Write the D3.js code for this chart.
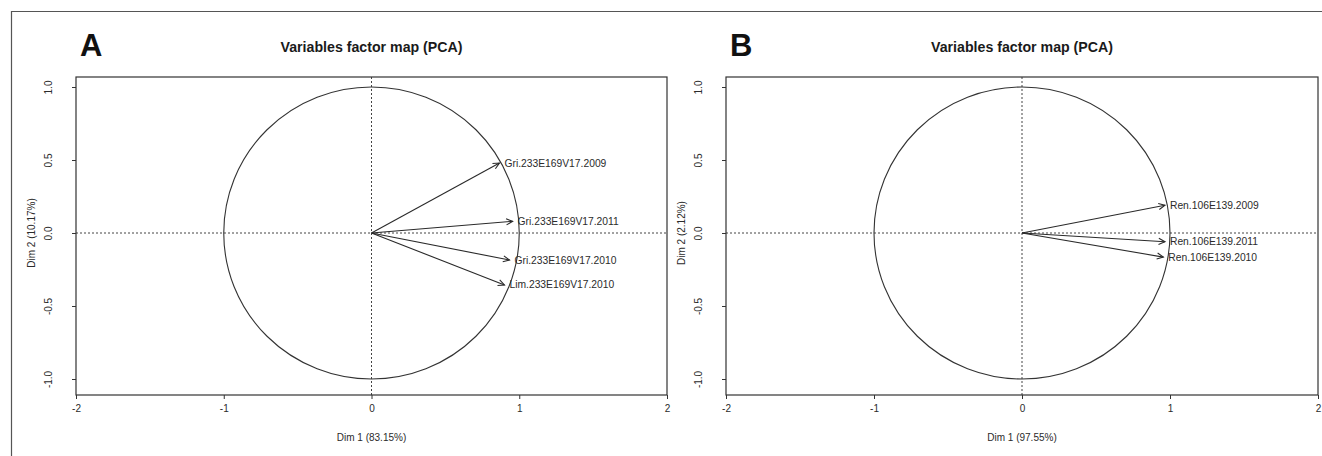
<!DOCTYPE html>
<html><head><meta charset="utf-8">
<script src="https://cdn.jsdelivr.net/npm/d3@7"></script>
<style>
body{margin:0;background:#fff;}
svg{display:block;font-family:"Liberation Sans",Arial,sans-serif;}
</style></head>
<body>
<svg id="c" width="1322" height="456"></svg>
<script>
// ---- data ----
const panelLetters = ["A", "B"];
const panelTitle = "Variables factor map (PCA)";
const xTitles = ["Dim 1 (83.15%)", "Dim 1 (97.55%)"];
const yTitles = ["Dim 2 (10.17%)", "Dim 2 (2.12%)"];
const xTicks = [-2, -1, 0, 1, 2];
const xTickLabels = ["-2", "-1", "0", "1", "2"];
const yTicks = [1, 0.5, 0, -0.5, -1];
const yTickLabels = ["1.0", "0.5", "0.0", "-0.5", "-1.0"];

const varsA = ["Gri.233E169V17.2009", "Gri.233E169V17.2011", "Gri.233E169V17.2010", "Lim.233E169V17.2010"];
const dim1A = [0.866, 0.955, 0.934, 0.900];
const dim2A = [0.479, 0.080, -0.185, -0.356];

const varsB = ["Ren.106E139.2009", "Ren.106E139.2011", "Ren.106E139.2010"];
const dim1B = [0.966, 0.966, 0.955];
const dim2B = [0.190, -0.060, -0.165];

// ---- layout ----
const svg = d3.select("#c");
const ink = "#2b2b2b";

// outer frame
svg.append("path").attr("d", "M11.5,456 V11.5 H1322")
  .attr("fill", "none").attr("stroke", "#555").attr("stroke-width", 1.2);

const panels = [
  {letter: panelLetters[0], xr: [76, 667], vars: varsA, d1: dim1A, d2: dim2A, xt: xTitles[0], yt: yTitles[0]},
  {letter: panelLetters[1], xr: [726, 1318], vars: varsB, d1: dim1B, d2: dim2B, xt: xTitles[1], yt: yTitles[1]}
];
const boxTop = 77, boxBottom = 395;

panels.forEach(p => {
  const x = d3.scaleLinear().domain([-2, 2]).range(p.xr);
  const y = d3.scaleLinear().domain([-1, 1]).range([379, 87]);
  const g = svg.append("g");
  const cx = (p.xr[0] + p.xr[1]) / 2;

  // letter + title
  g.append("text").attr("x", p.xr[0] + 4).attr("y", 56)
    .attr("font-size", 31).attr("font-weight", "bold").attr("fill", "#111").text(p.letter);
  g.append("text").attr("x", cx).attr("y", 52).attr("text-anchor", "middle")
    .attr("font-size", 14).attr("font-weight", "bold").attr("fill", "#1a1a1a")
    .attr("textLength", 182).attr("lengthAdjust", "spacingAndGlyphs").text(panelTitle);

  // reference dashed lines
  g.append("line").attr("x1", p.xr[0]).attr("x2", p.xr[1]).attr("y1", y(0)).attr("y2", y(0))
    .attr("stroke", "#444").attr("stroke-dasharray", "2,2").attr("stroke-width", 1);
  g.append("line").attr("x1", x(0)).attr("x2", x(0)).attr("y1", boxTop).attr("y2", boxBottom)
    .attr("stroke", "#444").attr("stroke-dasharray", "2,2").attr("stroke-width", 1);

  // unit circle
  g.append("ellipse").attr("cx", x(0)).attr("cy", y(0))
    .attr("rx", x(1) - x(0)).attr("ry", y(0) - y(1))
    .attr("fill", "none").attr("stroke", "#333").attr("stroke-width", 1.1);

  // box
  g.append("rect").attr("x", p.xr[0]).attr("y", boxTop)
    .attr("width", p.xr[1] - p.xr[0]).attr("height", boxBottom - boxTop)
    .attr("fill", "none").attr("stroke", "#333").attr("stroke-width", 1.2);

  // x axis
  const xa = g.append("g").attr("transform", `translate(0,${boxBottom})`)
    .call(d3.axisBottom(x).tickValues(xTicks).tickFormat((d, i) => xTickLabels[i]).tickSizeInner(4).tickSizeOuter(0).tickPadding(6));
  xa.select(".domain").remove();
  xa.selectAll("line").attr("stroke", "#333");
  xa.selectAll("text").attr("font-size", 10).attr("fill", ink).attr("font-family", "Liberation Sans, Arial, sans-serif");

  // y axis
  const ya = g.append("g").attr("transform", `translate(${p.xr[0]},0)`)
    .call(d3.axisLeft(y).tickValues(yTicks).tickFormat((d, i) => yTickLabels[i]).tickSizeInner(4).tickSizeOuter(0));
  ya.select(".domain").remove();
  ya.selectAll("line").attr("stroke", "#333");
  ya.selectAll("text").attr("font-size", 10).attr("fill", ink).attr("font-family", "Liberation Sans, Arial, sans-serif")
    .attr("x", null).attr("dy", null).attr("text-anchor", "middle")
    .attr("transform", "translate(-28,0) rotate(-90)").attr("y", 3.5);

  // axis titles
  g.append("text").attr("x", cx).attr("y", 441).attr("text-anchor", "middle")
    .attr("font-size", 10).attr("fill", ink).text(p.xt);
  g.append("text").attr("transform", `translate(${p.xr[0] - 41},${y(0)}) rotate(-90)`)
    .attr("text-anchor", "middle").attr("font-size", 10).attr("fill", ink).text(p.yt);

  // arrows
  p.vars.forEach((name, i) => {
    const tx = x(p.d1[i]), ty = y(p.d2[i]);
    const ox = x(0), oy = y(0);
    g.append("line").attr("x1", ox).attr("y1", oy).attr("x2", tx).attr("y2", ty)
      .attr("stroke", "#2a2a2a").attr("stroke-width", 1.1);
    const ang = Math.atan2(ty - oy, tx - ox);
    const L = 7, a = Math.PI / 7;
    const hp = `M${tx - L * Math.cos(ang - a)},${ty - L * Math.sin(ang - a)} L${tx},${ty} L${tx - L * Math.cos(ang + a)},${ty - L * Math.sin(ang + a)}`;
    g.append("path").attr("d", hp).attr("fill", "none").attr("stroke", "#2a2a2a").attr("stroke-width", 1.1);
    g.append("text").attr("x", tx + 5).attr("y", ty + 3.5)
      .attr("font-size", 10.3).attr("fill", ink).text(name);
  });
});
</script>
</body></html>
